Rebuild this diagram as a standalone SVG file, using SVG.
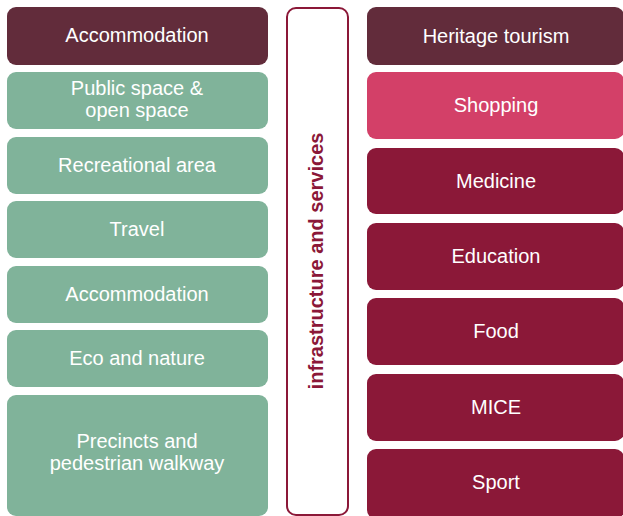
<svg xmlns="http://www.w3.org/2000/svg" width="623" height="516" viewBox="0 0 623 516">
<style>
.dark{fill:#622c3b}
.green{fill:#80b39a}
.pink{fill:#d34068}
.red{fill:#8b1838}
.t{font-family:"Liberation Sans",Arial,sans-serif;font-size:20px;fill:#ffffff;text-anchor:middle}
.v{font-family:"Liberation Sans",Arial,sans-serif;font-size:20px;font-weight:bold;fill:#8b1838;text-anchor:middle}
</style>
<rect width="623" height="516" fill="#ffffff"/>
<g id="left">
<g id="l1"><rect class="dark" x="7" y="7" width="261" height="58" rx="9"/><text class="t" x="137" y="42">Accommodation</text></g>
<g id="l2"><rect class="green" x="7" y="72" width="261" height="57" rx="9"/><text class="t" x="137" y="95">Public space &amp;</text><text class="t" x="137" y="117">open space</text></g>
<g id="l3"><rect class="green" x="7" y="137" width="261" height="57" rx="9"/><text class="t" x="137" y="172">Recreational area</text></g>
<g id="l4"><rect class="green" x="7" y="201" width="261" height="57" rx="9"/><text class="t" x="137" y="236">Travel</text></g>
<g id="l5"><rect class="green" x="7" y="266" width="261" height="57" rx="9"/><text class="t" x="137" y="301">Accommodation</text></g>
<g id="l6"><rect class="green" x="7" y="330" width="261" height="57" rx="9"/><text class="t" x="137" y="365">Eco and nature</text></g>
<g id="l7"><rect class="green" x="7" y="395" width="261" height="121" rx="9"/><text class="t" x="137" y="448">Precincts and</text><text class="t" x="137" y="470">pedestrian walkway</text></g>
</g>
<g id="middle">
<rect x="287" y="8" width="61" height="507" rx="9" fill="#ffffff" stroke="#8b1838" stroke-width="2"/>
<text class="v" transform="translate(323,261) rotate(-90)">infrastructure and services</text>
</g>
<g id="right">
<g id="r1"><rect class="dark" x="367" y="7" width="257" height="58" rx="9"/><text class="t" x="496" y="43">Heritage tourism</text></g>
<g id="r2"><rect class="pink" x="367" y="72" width="257" height="67" rx="9"/><text class="t" x="496" y="112">Shopping</text></g>
<g id="r3"><rect class="red" x="367" y="148" width="257" height="66" rx="9"/><text class="t" x="496" y="188">Medicine</text></g>
<g id="r4"><rect class="red" x="367" y="223" width="257" height="67" rx="9"/><text class="t" x="496" y="263">Education</text></g>
<g id="r5"><rect class="red" x="367" y="298" width="257" height="67" rx="9"/><text class="t" x="496" y="338">Food</text></g>
<g id="r6"><rect class="red" x="367" y="374" width="257" height="67" rx="9"/><text class="t" x="496" y="414">MICE</text></g>
<g id="r7"><rect class="red" x="367" y="449" width="257" height="70" rx="9"/><text class="t" x="496" y="489">Sport</text></g>
</g>
<g id="connectors"/>
</svg>
